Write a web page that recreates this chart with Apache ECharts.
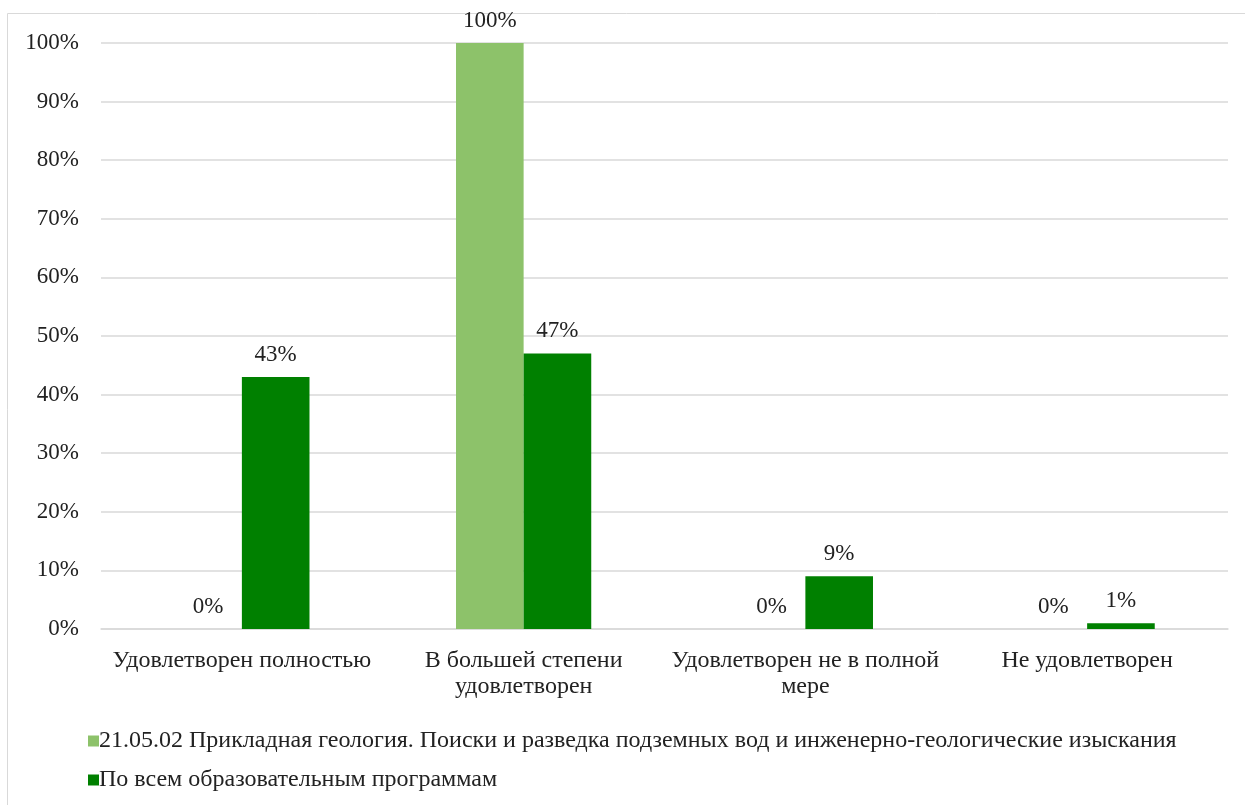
<!DOCTYPE html>
<html><head><meta charset="utf-8">
<script src="https://cdn.jsdelivr.net/npm/echarts@6/dist/echarts.min.js"></script>
<style>html,body{margin:0;padding:0;background:#fff;}#c{width:1245px;height:805px;}</style>
</head><body><div id="c"></div>
<script>
const categories = ['Удовлетворен полностью', 'В большей степени удовлетворен', 'Удовлетворен не в полной мере', 'Не удовлетворен'];
const categoryLabels = ['Удовлетворен полностью', 'В большей степени\nудовлетворен', 'Удовлетворен не в полной\nмере', 'Не удовлетворен'];
const seriesNames = ['21.05.02 Прикладная геология. Поиски и разведка подземных вод и инженерно-геологические изыскания', 'По всем образовательным программам'];
const programValues = [0, 100, 0, 0];
const allValues = [43, 47, 9, 1];
const yTicks = [0, 10, 20, 30, 40, 50, 60, 70, 80, 90, 100];

const font = 'Liberation Serif';
const fs = 23;
const chart = echarts.init(document.getElementById('c'));
const lbl = {show: true, position: 'top', distance: 11, formatter: p => p.value + '%', color: '#222', fontFamily: font, fontSize: fs};
chart.setOption({
  animation: false,
  graphic: [{type: 'rect', shape: {x: 7.5, y: 13.5, width: 1300, height: 900}, style: {fill: 'none', stroke: '#d9d9d9', lineWidth: 1}, silent: true}],
  grid: {left: 101, right: 17, top: 43, bottom: 176, containLabel: false},
  xAxis: {type: 'category', data: categories,
    axisLine: {lineStyle: {color: '#d9d9d9', width: 1.5}}, axisTick: {show: false},
    axisLabel: {color: '#222', fontFamily: font, fontSize: 24, lineHeight: 26, margin: 19, overflow: 'none', interval: 0,
      formatter: (v, i) => categoryLabels[categories.indexOf(v)]}},
  yAxis: {type: 'value', min: 0, max: 100, interval: 10,
    axisLine: {show: false}, axisTick: {show: false},
    splitLine: {lineStyle: {color: '#d9d9d9', width: 1.5}},
    axisLabel: {formatter: v => v + '%', color: '#222', fontFamily: font, fontSize: fs, margin: 22}},
  legend: {orient: 'vertical', left: 83, top: 724, itemGap: 15, itemWidth: 11, itemHeight: 11, icon: 'rect',
    textStyle: {color: '#222', fontFamily: font, fontSize: 24, padding: [0, 0, 0, -5]}},
  series: [
    {name: seriesNames[0], type: 'bar', data: programValues, barWidth: '24%', barGap: '0%', itemStyle: {color: '#8DC26A'}, label: lbl},
    {name: seriesNames[1], type: 'bar', data: allValues, barWidth: '24%', itemStyle: {color: '#008000'}, label: lbl}
  ]
});
</script></body></html>
